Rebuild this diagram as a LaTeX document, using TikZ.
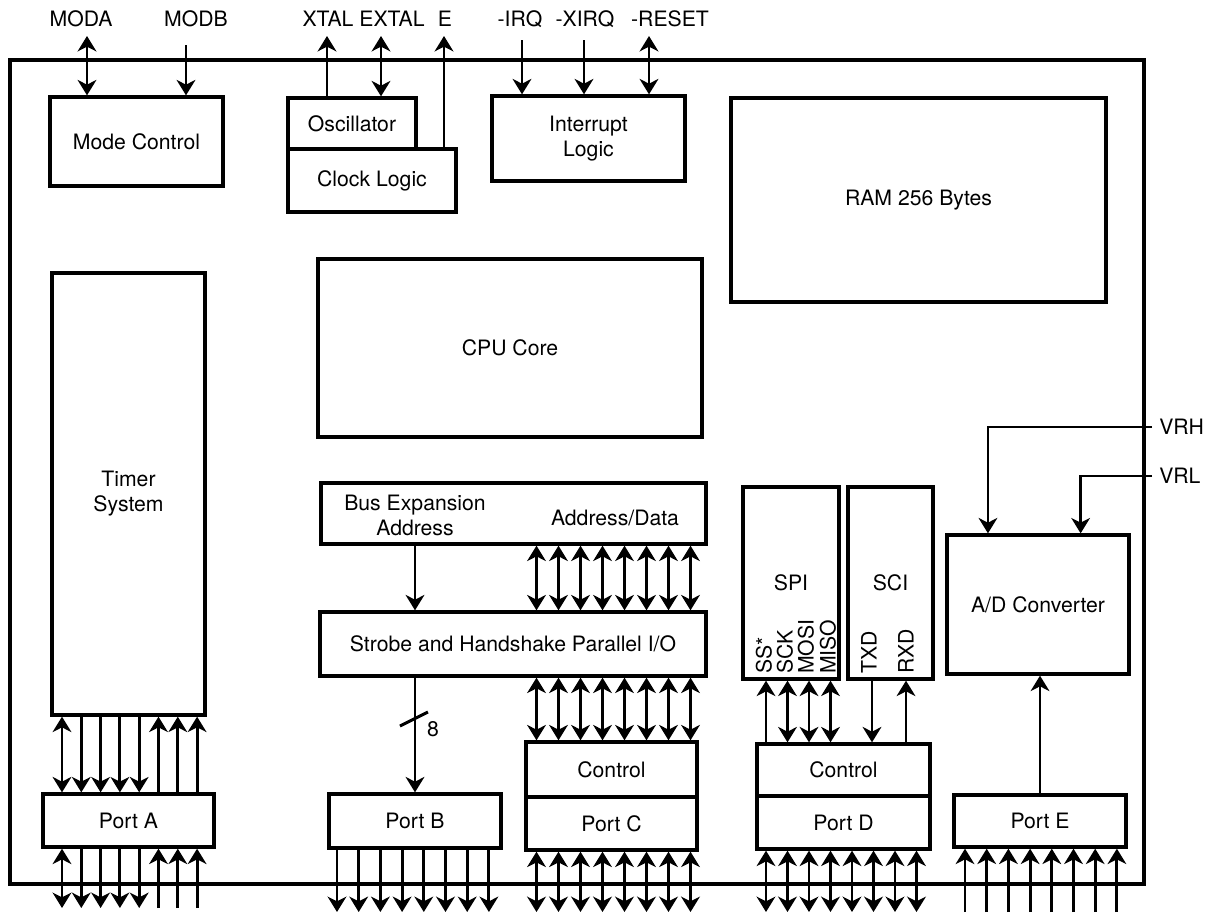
\documentclass[tikz,border=0pt]{standalone}
\usepackage{fontspec}
\setmainfont{TeX Gyre Heros}
\usetikzlibrary{arrows.meta,calc}
\newdimen\px \px=0.75pt
\tikzset{
  sig/.style={line width=2.2pt},
  blk/.style={draw, line width=2.5pt, inner sep=2pt, align=center},
  txt/.style={inner sep=0pt, align=center},
  pinlbl/.style={inner sep=0pt, anchor=base},
  vlbl/.style={inner sep=0pt, rotate=90, anchor=west},
}

\begin{document}
\begin{tikzpicture}[x=0.75pt,y=-0.75pt,font=\fontsize{15.9}{18.8}\selectfont,
    >={Stealth[length=11.5pt,width=14pt,inset=3.5pt]}]
    \useasboundingbox (0,0) rectangle (1214,918);
    \node[blk,minimum width=1134\px,minimum height=824\px] (chip) at (577,472) {};
    % blocks
    \node[blk,minimum width=173\px,minimum height=89\px] (modectl) at (136.5,141.5) {Mode Control};
    \node[blk,minimum width=128\px,minimum height=51\px] (osc) at (352,123.5) {Oscillator};
    \node[blk,minimum width=168\px,minimum height=63\px] (clk) at (372,180.5) {Clock Logic};
    \node[blk,minimum width=193\px,minimum height=85\px] (intr) at (588.5,138.5) {Interrupt\\Logic};
    \node[blk,minimum width=375\px,minimum height=204\px] (ram) at (918.5,200) {RAM 256 Bytes};
    \node[blk,minimum width=384\px,minimum height=178\px] (cpu) at (510,348) {CPU Core};
    \node[blk,minimum width=153\px,minimum height=442\px] (timer) at (128.5,494) {Timer\\System};
    \node[blk,minimum width=385\px,minimum height=61\px] (bus) at (513.5,513.5) {};
    \node[txt] (busaddr) at (415,515) {Bus Expansion\\Address};
    \node[txt] (busdata) at (615,518) {Address/Data};
    \node[blk,minimum width=386\px,minimum height=64\px] (strobe) at (513,644) {Strobe and Handshake Parallel I/O};
    \node[blk,minimum width=96\px,minimum height=192\px] (spi) at (791,583) {SPI};
    \node[blk,minimum width=85\px,minimum height=192\px] (sci) at (890.5,583) {SCI};
    \node[blk,minimum width=182\px,minimum height=139\px] (adc) at (1038,604.5) {A/D Converter};
    \node[blk,minimum width=171\px,minimum height=53\px] (porta) at (128.5,820.5) {Port A};
    \node[blk,minimum width=172\px,minimum height=54\px] (portb) at (415,821) {Port B};
    \node[blk,minimum width=171\px,minimum height=55\px] (ctrlc) at (611.5,769.5) {Control};
    \node[blk,minimum width=171\px,minimum height=53\px] (portc) at (611.5,823.5) {Port C};
    \node[blk,minimum width=173\px,minimum height=52\px] (ctrld) at (843.5,770) {Control};
    \node[blk,minimum width=173\px,minimum height=53\px] (portd) at (843.5,822.5) {Port D};
    \node[blk,minimum width=172\px,minimum height=52\px] (porte) at (1040,821) {Port E};
    % top pins
    \coordinate (pmoda) at (87,36);
    \coordinate (pmodb) at (186,45);
    \coordinate (pxtal) at (327,36);
    \coordinate (pextal) at (381,36);
    \coordinate (peclk) at (444,36);
    \coordinate (pirq) at (522,40);
    \coordinate (pxirq) at (584,40);
    \coordinate (preset) at (649,36);
    \node[pinlbl] (lmoda) at (81,26) {MODA};
    \node[pinlbl] (lmodb) at (196,26) {MODB};
    \node[pinlbl] (lxtal) at (328,26) {XTAL};
    \node[pinlbl] (lextal) at (392,26) {EXTAL};
    \node[pinlbl] (leclk) at (445,26) {E};
    \node[pinlbl] (lirq) at (520,26) {-IRQ};
    \node[pinlbl] (lxirq) at (585,26) {-XIRQ};
    \node[pinlbl] (lreset) at (670,26) {-RESET};
    \draw[sig,<->] (pmoda) -- (modectl.north -| pmoda);
    \draw[sig,->] (pmodb) -- (modectl.north -| pmodb);
    \draw[sig,->] (osc.north -| pxtal) -- (pxtal);
    \draw[sig,<->] (pextal) -- (osc.north -| pextal);
    \draw[sig,->] (clk.north -| peclk) -- (peclk);
    \draw[sig,->] (pirq) -- (intr.north -| pirq);
    \draw[sig,->] (pxirq) -- (intr.north -| pxirq);
    \draw[sig,<->] (preset) -- (intr.north -| preset);
    % reference inputs
    \coordinate (pvrh) at (1152,427);
    \coordinate (pvrl) at (1152,476);
    \node[txt,anchor=west] (lvrh) at (1159,427) {VRH};
    \node[txt,anchor=west] (lvrl) at (1159,476) {VRL};
    \draw[sig,->] (pvrh) -| ($(adc.north west)!0.23!(adc.north east)$);
    \draw[sig,->] (pvrl) -| ($(adc.north west)!0.73!(adc.north east)$);
    \draw[sig,->] (porte.north) -- (adc.south -| porte.north);
    % port A
    \foreach \i in {0,...,7} \coordinate (pa\i) at ({62+19.3*\i},908);
    \draw[sig,<->] (timer.south -| pa0) -- (porta.north -| pa0);
    \draw[sig,<->] (porta.south -| pa0) -- (pa0);
    \foreach \i in {1,...,4} {
      \draw[sig,->] (timer.south -| pa\i) -- (porta.north -| pa\i);
      \draw[sig,->] (porta.south -| pa\i) -- (pa\i);
    }
    \foreach \i in {5,6,7} {
      \draw[sig,->] (porta.north -| pa\i) -- (timer.south -| pa\i);
      \draw[sig,->] (pa\i) -- (porta.south -| pa\i);
    }
    % ports B and C
    \draw[sig,->] (bus.south -| busaddr) -- (strobe.north -| busaddr);
    \draw[sig,->] (strobe.south -| portb.north) -- (portb.north);
    \coordinate (slash8) at (414,719);
    \draw[sig] ([shift={(-14,7)}]slash8) -- ([shift={(14,-7)}]slash8);
    \node[txt] (lbl8) at (433,729) {8};
    \foreach \i in {0,...,7} {
      \coordinate (pb\i) at ({337+21.7*\i},912);
      \draw[sig,->] (portb.south -| pb\i) -- (pb\i);
      \coordinate (pc\i) at ({536.5+22*\i},912);
      \draw[sig,<->] (bus.south -| pc\i) -- (strobe.north -| pc\i);
      \draw[sig,<->] (strobe.south -| pc\i) -- (ctrlc.north -| pc\i);
      \draw[sig,<->] (portc.south -| pc\i) -- (pc\i);
    }
    % port D
    \foreach \i in {0,...,7} {
      \coordinate (pd\i) at ({766+21.5*\i},912);
      \draw[sig,<->] (portd.south -| pd\i) -- (pd\i);
    }
    \draw[sig,->] (ctrld.north -| pd0) -- (spi.south -| pd0);
    \foreach \i in {1,2,3} \draw[sig,<->] (ctrld.north -| pd\i) -- (spi.south -| pd\i);
    \coordinate (ptxd) at (872,700);
    \coordinate (prxd) at (906,700);
    \draw[sig,->] (sci.south -| ptxd) -- (ctrld.north -| ptxd);
    \draw[sig,->] (ctrld.north -| prxd) -- (sci.south -| prxd);
    \node[vlbl] (lss) at (764,674) {SS*};
    \node[vlbl] (lsck) at (785,674) {SCK};
    \node[vlbl] (lmosi) at (806,674) {MOSI};
    \node[vlbl] (lmiso) at (828,674) {MISO};
    \node[vlbl] (ltxd) at (869,674) {TXD};
    \node[vlbl] (lrxd) at (906,674) {RXD};
    % port E
    \foreach \i in {0,...,7} {
      \coordinate (pte\i) at ({965+21.7*\i},912);
      \draw[sig,->] (pte\i) -- (porte.south -| pte\i);
    }
  \end{tikzpicture}
\end{document}
